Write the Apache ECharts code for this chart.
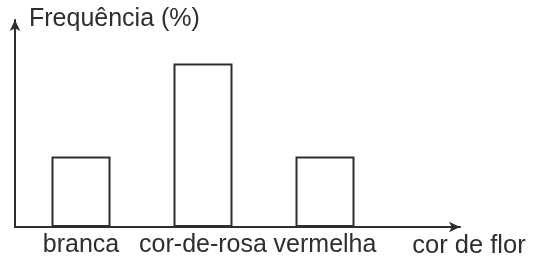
<!DOCTYPE html>
<html>
<head>
<meta charset="utf-8">
<script src="https://cdn.jsdelivr.net/npm/echarts@6/dist/echarts.min.js"></script>
<style>
  html, body { margin: 0; padding: 0; background: #fff; }
  #chart { width: 535px; height: 260px; }
</style>
</head>
<body>
<div id="chart"></div>
<script>
var categories = ['branca', 'cor-de-rosa', 'vermelha'];
var frequencies = [34, 79, 34];
var yTitle = 'Frequência (%)';
var xTitle = 'cor de flor';

var ink = '#2e2e2e';
var font = '"Liberation Sans", Arial, sans-serif';

var myChart = echarts.init(document.getElementById('chart'));

var option = {
    backgroundColor: '#fff',
    animation: false,
    title: {
        text: yTitle,
        left: 24,
        top: 2,
        textStyle: { color: ink, fontSize: 25, fontWeight: 'normal', fontFamily: font }
    },
    grid: [
        // axes frame with the arrows
        { left: 15, top: 20, width: 445, height: 207 },
        // bars
        { left: 20, top: 20, width: 366, height: 207 }
    ],
    xAxis: [
        {
            type: 'value',
            gridIndex: 0,
            min: 0,
            max: 1,
            name: xTitle,
            nameLocation: 'end',
            nameGap: 9,
            nameTextStyle: {
                color: ink, fontSize: 25.5, fontFamily: font,
                align: 'center', verticalAlign: 'top', padding: [6, 0, 0, 0]
            },
            axisLine: { show: true, lineStyle: { color: ink, width: 2 }, symbol: ['none', 'arrow'], symbolSize: [8, 11] },
            axisTick: { show: false },
            axisLabel: { show: false },
            splitLine: { show: false }
        },
        {
            type: 'category',
            gridIndex: 1,
            data: categories,
            axisLine: { show: false },
            axisTick: { show: false },
            axisLabel: { color: ink, fontSize: 25, fontFamily: font, margin: 6, verticalAlign: 'top', interval: 0, hideOverlap: false },
            splitLine: { show: false }
        }
    ],
    yAxis: [
        {
            type: 'value',
            gridIndex: 0,
            min: 0,
            max: 1,
            axisLine: { show: true, lineStyle: { color: ink, width: 2 }, symbol: ['none', 'arrow'], symbolSize: [8, 11] },
            axisTick: { show: false },
            axisLabel: { show: false },
            splitLine: { show: false }
        },
        {
            type: 'value',
            gridIndex: 1,
            min: 0,
            max: 100,
            show: false,
            splitLine: { show: false }
        }
    ],
    series: [
        {
            type: 'bar',
            xAxisIndex: 1,
            yAxisIndex: 1,
            data: frequencies,
            barWidth: 59,
            itemStyle: { color: '#fff', borderColor: ink, borderWidth: 2 }
        }
    ]
};

myChart.setOption(option);
</script>
</body>
</html>
